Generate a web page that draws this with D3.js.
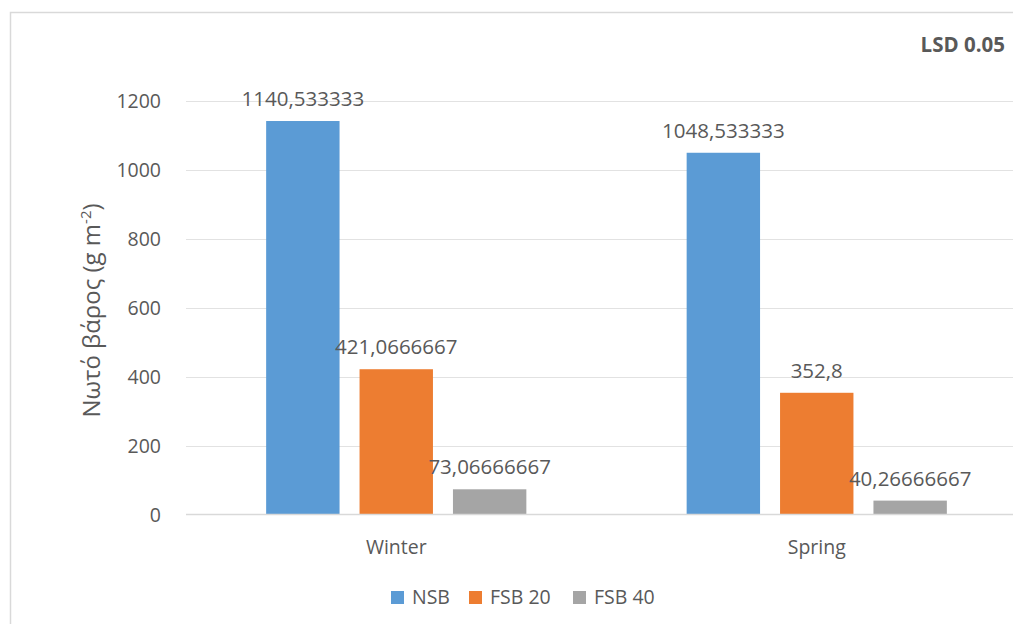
<!DOCTYPE html>
<html>
<head>
<meta charset="utf-8">
<script src="https://cdn.jsdelivr.net/npm/d3@7"></script>
<style>
  html, body { margin: 0; padding: 0; background: #fff; }
  svg { display: block; }
  text { font-family: "Open Sans", "Liberation Sans", sans-serif; fill: #595959; }
</style>
</head>
<body>
<svg id="chart" width="1013" height="624"></svg>
<script>
// Seasons on the x axis
const categories = ["Winter", "Spring"];
// Treatments (legend order)
const series = ["NSB", "FSB 20", "FSB 40"];
// Dry weight per season, one array per treatment
const nsbValues = [1140.533333, 1048.533333];
const fsb20Values = [421.0666667, 352.8];
const fsb40Values = [73.06666667, 40.26666667];
// Value labels as printed above each bar
const nsbLabels = ["1140,533333", "1048,533333"];
const fsb20Labels = ["421,0666667", "352,8"];
const fsb40Labels = ["73,06666667", "40,26666667"];
// Y-axis ticks
const yTicks = [0, 200, 400, 600, 800, 1000, 1200];

const colors = ["#5b9bd5", "#ed7d31", "#a5a5a5"];
const seriesValues = [nsbValues, fsb20Values, fsb40Values];
const seriesLabels = [nsbLabels, fsb20Labels, fsb40Labels];

const svg = d3.select("#chart");

// Chart frame
svg.append("rect")
  .attr("x", 10.5).attr("y", 12.5)
  .attr("width", 1040).attr("height", 640)
  .attr("fill", "none").attr("stroke", "#d9d9d9").attr("stroke-width", 1.5);

const plot = { left: 186, right: 1027, top: 100.5, bottom: 514.5 };

const y = d3.scaleLinear().domain([0, 1200]).range([plot.bottom, plot.top]);
const x0 = d3.scaleBand().domain(categories).range([plot.left, plot.right]).padding(0);
const groupW = 260.2;
const x1 = d3.scaleBand().domain(series).range([0, groupW]).paddingInner(20 / 93.4).paddingOuter(0);

// Gridlines
svg.append("g")
  .selectAll("line")
  .data(yTicks.filter(t => t !== 0))
  .join("line")
  .attr("x1", plot.left).attr("x2", plot.right)
  .attr("y1", d => Math.round(y(d)) + 0.5).attr("y2", d => Math.round(y(d)) + 0.5)
  .attr("stroke", "#e2e2e2").attr("stroke-width", 1.2);

// Y axis tick labels
const yAxis = d3.axisLeft(y).tickValues(yTicks).tickSize(0).tickPadding(0).tickFormat(d3.format("d"));
const gy = svg.append("g").attr("transform", `translate(161,0)`).call(yAxis);
gy.select(".domain").remove();
gy.selectAll("text")
  .attr("font-size", 19.5)
  .style("font-family", "'Open Sans', sans-serif")
  .attr("fill", "#595959")
  .attr("dy", "0.35em");

// Bars
const groups = svg.append("g")
  .selectAll("g")
  .data(categories)
  .join("g")
  .attr("transform", d => `translate(${x0(d) + (x0.bandwidth() - groupW) / 2},0)`);

groups.each(function (cat, ci) {
  const g = d3.select(this);
  series.forEach((s, si) => {
    const v = seriesValues[si][ci];
    g.append("rect")
      .attr("x", x1(s))
      .attr("y", y(v))
      .attr("width", x1.bandwidth())
      .attr("height", y(0) - y(v))
      .attr("fill", colors[si]);
    g.append("text")
      .attr("x", x1(s) + x1.bandwidth() / 2)
      .attr("y", y(v) - 15)
      .attr("text-anchor", "middle")
      .attr("font-size", 20.5)
      .attr("fill", "#404040")
      .text(seriesLabels[si][ci]);
  });
});

// X axis baseline
svg.append("line")
  .attr("x1", plot.left).attr("x2", plot.right)
  .attr("y1", plot.bottom).attr("y2", plot.bottom)
  .attr("stroke", "#d9d9d9").attr("stroke-width", 1.5);

// Category labels
const xAxis = d3.axisBottom(x0).tickSize(0).tickPadding(0);
const gx = svg.append("g").attr("transform", `translate(0,${plot.bottom})`).call(xAxis);
gx.select(".domain").remove();
gx.selectAll("text")
  .attr("y", 39)
  .attr("dy", 0)
  .attr("font-size", 19.5)
  .style("font-family", "'Open Sans', sans-serif")
  .attr("fill", "#595959");

// Y axis title
const yt = svg.append("text")
  .attr("transform", `translate(100,${(plot.top + plot.bottom) / 2 + 3}) rotate(-90)`)
  .attr("text-anchor", "middle")
  .attr("font-size", 24);
yt.append("tspan").text("Νωτό βάρος (g m");
yt.append("tspan").attr("font-size", 15).attr("dy", -9).text("-2");
yt.append("tspan").attr("dy", 9).text(")");

// Top-right note
svg.append("text")
  .attr("x", 1005).attr("y", 52)
  .attr("text-anchor", "end")
  .attr("font-size", 20.5)
  .attr("font-weight", "bold")
  .text("LSD 0.05");

// Legend
const legendX = [391, 469, 573];
const legend = svg.append("g");
series.forEach((s, i) => {
  legend.append("rect")
    .attr("x", legendX[i]).attr("y", 591)
    .attr("width", 13).attr("height", 13)
    .attr("fill", colors[i]);
  legend.append("text")
    .attr("x", legendX[i] + 21).attr("y", 604)
    .attr("font-size", 19.5)
    .text(s);
});
</script>
</body>
</html>
